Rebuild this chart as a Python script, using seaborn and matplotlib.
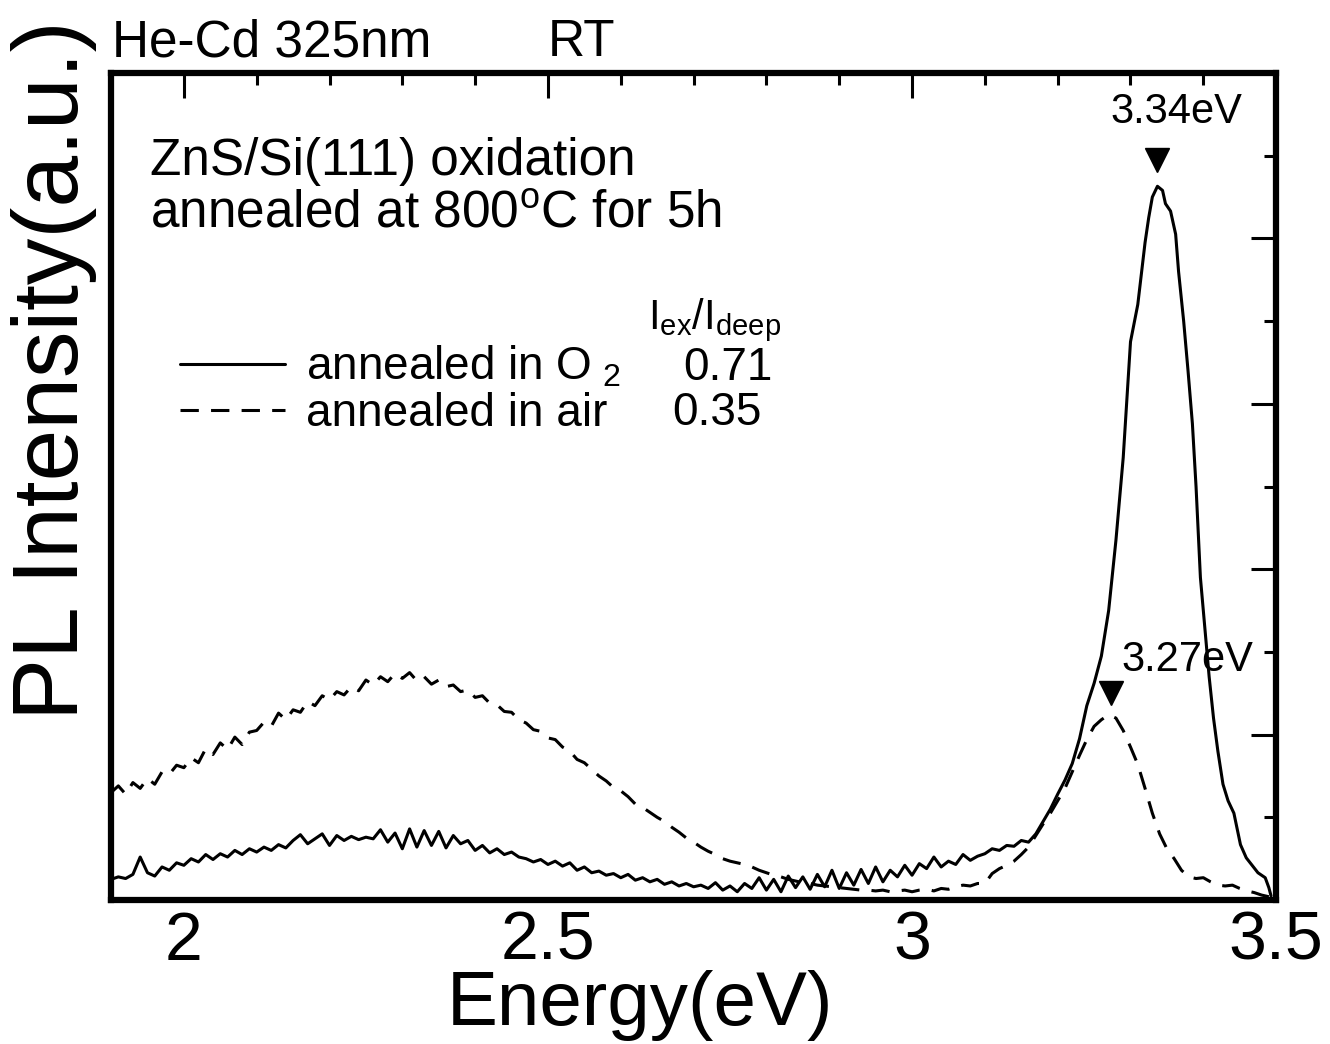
import numpy as np
import pandas as pd
import matplotlib
matplotlib.use('Agg')
import matplotlib.pyplot as plt
from matplotlib.ticker import MultipleLocator
import seaborn as sns

# noisy part of the scans, sampled every 0.01 eV from 1.90 to 3.20 eV
scan_energy = np.round(np.arange(190, 321) / 100, 2)

o2_scan = [
    0.25, 0.28, 0.26, 0.31, 0.52, 0.33, 0.29, 0.40, 0.36, 0.45,
    0.42, 0.50, 0.46, 0.55, 0.49, 0.56, 0.52, 0.60, 0.55, 0.62,
    0.58, 0.64, 0.60, 0.67, 0.63, 0.72, 0.79, 0.68, 0.74, 0.80,
    0.66, 0.78, 0.72, 0.77, 0.73, 0.76, 0.74, 0.85, 0.70, 0.81,
    0.62, 0.86, 0.64, 0.84, 0.66, 0.83, 0.63, 0.78, 0.68, 0.72,
    0.60, 0.66, 0.57, 0.62, 0.55, 0.58, 0.52, 0.50, 0.46, 0.49,
    0.43, 0.47, 0.41, 0.45, 0.36, 0.40, 0.33, 0.35, 0.30, 0.32,
    0.27, 0.31, 0.24, 0.27, 0.22, 0.25, 0.19, 0.22, 0.17, 0.20,
    0.16, 0.18, 0.14, 0.21, 0.12, 0.17, 0.10, 0.20, 0.14, 0.27,
    0.12, 0.25, 0.10, 0.29, 0.15, 0.28, 0.13, 0.31, 0.16, 0.36,
    0.14, 0.33, 0.18, 0.37, 0.20, 0.40, 0.22, 0.36, 0.28, 0.42,
    0.30, 0.44, 0.38, 0.52, 0.40, 0.47, 0.43, 0.55, 0.48, 0.53,
    0.56, 0.62, 0.60, 0.66, 0.65, 0.72, 0.70, 0.80, 0.95, 1.10,
    1.28,
]

air_scan = [
    1.30, 1.38, 1.28, 1.42, 1.35, 1.47, 1.40, 1.55, 1.52, 1.63,
    1.60, 1.72, 1.66, 1.83, 1.76, 1.90, 1.82, 1.97, 1.88, 2.03,
    2.05, 2.15, 2.10, 2.26, 2.18, 2.30, 2.27, 2.40, 2.35, 2.47,
    2.42, 2.52, 2.48, 2.58, 2.53, 2.66, 2.60, 2.70, 2.64, 2.74,
    2.68, 2.75, 2.65, 2.70, 2.61, 2.66, 2.58, 2.60, 2.52, 2.54,
    2.45, 2.47, 2.38, 2.36, 2.28, 2.27, 2.18, 2.14, 2.06, 2.04,
    1.96, 1.94, 1.85, 1.80, 1.70, 1.66, 1.58, 1.50, 1.44, 1.36,
    1.32, 1.25, 1.16, 1.12, 1.06, 1.00, 0.95, 0.88, 0.82, 0.75,
    0.70, 0.64, 0.59, 0.55, 0.50, 0.47, 0.45, 0.43, 0.40, 0.36,
    0.33, 0.30, 0.28, 0.25, 0.23, 0.21, 0.20, 0.18, 0.17, 0.16,
    0.15, 0.14, 0.13, 0.12, 0.12, 0.11, 0.12, 0.10, 0.11, 0.12,
    0.10, 0.12, 0.13, 0.11, 0.14, 0.13, 0.16, 0.18, 0.17, 0.20,
    0.20, 0.32, 0.38, 0.42, 0.47, 0.55, 0.64, 0.78, 0.92, 1.05,
    1.20,
]

# band-edge peaks
o2_peak_energy = [3.21, 3.22, 3.23, 3.24, 3.25, 3.26, 3.27, 3.28, 3.29, 3.30,
                  3.31, 3.32, 3.325, 3.33, 3.337, 3.344, 3.348, 3.355, 3.362, 3.366,
                  3.373, 3.379, 3.385, 3.39, 3.396, 3.408, 3.414, 3.42, 3.427, 3.434,
                  3.442, 3.451, 3.459, 3.467, 3.475, 3.485, 3.49, 3.493]
o2_peak = [1.45, 1.65, 1.95, 2.35, 2.62, 2.95, 3.50, 4.35, 5.35, 6.75,
           7.20, 7.95, 8.25, 8.50, 8.63, 8.58, 8.42, 8.33, 8.05, 7.60,
           7.00, 6.40, 5.76, 5.00, 3.90, 2.70, 2.20, 1.80, 1.40, 1.20,
           1.05, 0.67, 0.51, 0.42, 0.33, 0.27, 0.15, 0.05]

air_peak_energy = [3.21, 3.22, 3.23, 3.24, 3.25, 3.26, 3.27, 3.28, 3.29, 3.30,
                   3.31, 3.32, 3.33, 3.34, 3.35, 3.36, 3.37, 3.38, 3.39, 3.40,
                   3.41, 3.42, 3.43, 3.44, 3.45, 3.46, 3.47, 3.48, 3.49]
air_peak = [1.35, 1.55, 1.75, 1.94, 2.10, 2.18, 2.24, 2.20, 2.05, 1.85,
            1.64, 1.35, 1.05, 0.80, 0.62, 0.50, 0.36, 0.28, 0.26, 0.27,
            0.22, 0.18, 0.17, 0.18, 0.14, 0.11, 0.09, 0.06, 0.04]

series = ['O2', 'air']
series_labels = ['annealed in O$_{\\ 2}$', 'annealed in air']
ratio_values = ['0.71', '0.35']

peak_labels = ['3.34eV', '3.27eV']
peak_energy = [3.337, 3.273]
peak_mark_y = [8.95, 2.50]

x_ticks = [2, 2.5, 3, 3.5]
x_tick_labels = ['2', '2.5', '3', '3.5']

df = pd.concat([
    pd.DataFrame({'energy': np.concatenate([scan_energy, o2_peak_energy]),
                  'intensity': np.concatenate([o2_scan, o2_peak]),
                  'sample': 'O2'}),
    pd.DataFrame({'energy': np.concatenate([scan_energy, air_peak_energy]),
                  'intensity': np.concatenate([air_scan, air_peak]),
                  'sample': 'air'}),
], ignore_index=True)

sns.set_theme(style='white')
plt.rcParams['font.family'] = ['Liberation Sans', 'DejaVu Sans']
plt.rcParams['mathtext.default'] = 'regular'
for key in ['text.color', 'axes.labelcolor', 'xtick.color', 'ytick.color']:
    plt.rcParams[key] = 'black'

fig = plt.figure(figsize=(13.3, 10.44), dpi=100)
ax = fig.add_axes([0.0835, 0.1379, 0.876, 0.7922])

sns.lineplot(data=df, x='energy', y='intensity', style='sample',
             dashes={'O2': '', 'air': (6, 4)}, color='black',
             linewidth=2.2, sort=False, estimator=None, legend=False, ax=ax)

# peak markers
ax.plot(peak_energy, peak_mark_y, linestyle='none', marker='v',
        markersize=17, color='black')
ax.text(peak_energy[0] + 0.026, peak_mark_y[0] + 0.45, peak_labels[0],
        ha='center', va='baseline', fontsize=30)
ax.text(peak_energy[1] + 0.014, peak_mark_y[1] + 0.27, peak_labels[1],
        ha='left', va='baseline', fontsize=30)

ax.set_xlim(1.9, 3.5)
ax.set_ylim(0, 10)
ax.set_xticks(x_ticks)
ax.set_xticklabels(x_tick_labels)
ax.xaxis.set_minor_locator(MultipleLocator(0.1))
ax.yaxis.set_major_locator(MultipleLocator(2))
ax.yaxis.set_minor_locator(MultipleLocator(1))
ax.tick_params(which='both', direction='in', top=True, right=True,
               labelleft=False, color='black', width=2.2)
ax.tick_params(which='major', length=18, labelsize=49, pad=7)
ax.tick_params(which='minor', length=8.5)
for sp in ax.spines.values():
    sp.set_linewidth(4.5)
    sp.set_color('black')

ax.set_xlabel('Energy(eV)', fontsize=55)
ax.xaxis.set_label_coords(0.454, -0.084)
ax.set_ylabel('PL Intensity(a.u.)', fontsize=67)
ax.yaxis.set_label_coords(-0.012, 0.641)

# legend
handles = ax.get_lines()[:2]
leg = ax.legend(handles, series_labels, loc='upper left',
                bbox_to_anchor=(0.059, 0.672), frameon=False, fontsize=33,
                handlelength=2.3, handletextpad=0.45, labelspacing=0.05,
                borderaxespad=0, borderpad=0)
ax.text(0.461, 0.69, 'I$_{ex}$/I$_{deep}$', transform=ax.transAxes,
        fontsize=30, ha='left', va='baseline')
ax.text(0.491, 0.629, ratio_values[0], transform=ax.transAxes,
        fontsize=33, ha='left', va='baseline')
ax.text(0.482, 0.574, ratio_values[1], transform=ax.transAxes,
        fontsize=33, ha='left', va='baseline')

ax.text(0.033, 0.877, 'ZnS/Si(111) oxidation', transform=ax.transAxes,
        fontsize=37, ha='left', va='baseline')
ax.text(0.033, 0.813, 'annealed at 800$^{o}$C for 5h', transform=ax.transAxes,
        fontsize=37, ha='left', va='baseline')

fig.text(0.0842, 0.946, 'He-Cd 325nm', fontsize=37, ha='left', va='baseline')
fig.text(0.412, 0.946, 'RT', fontsize=37, ha='left', va='baseline')

fig.savefig('out.png', dpi=100, facecolor='white')
